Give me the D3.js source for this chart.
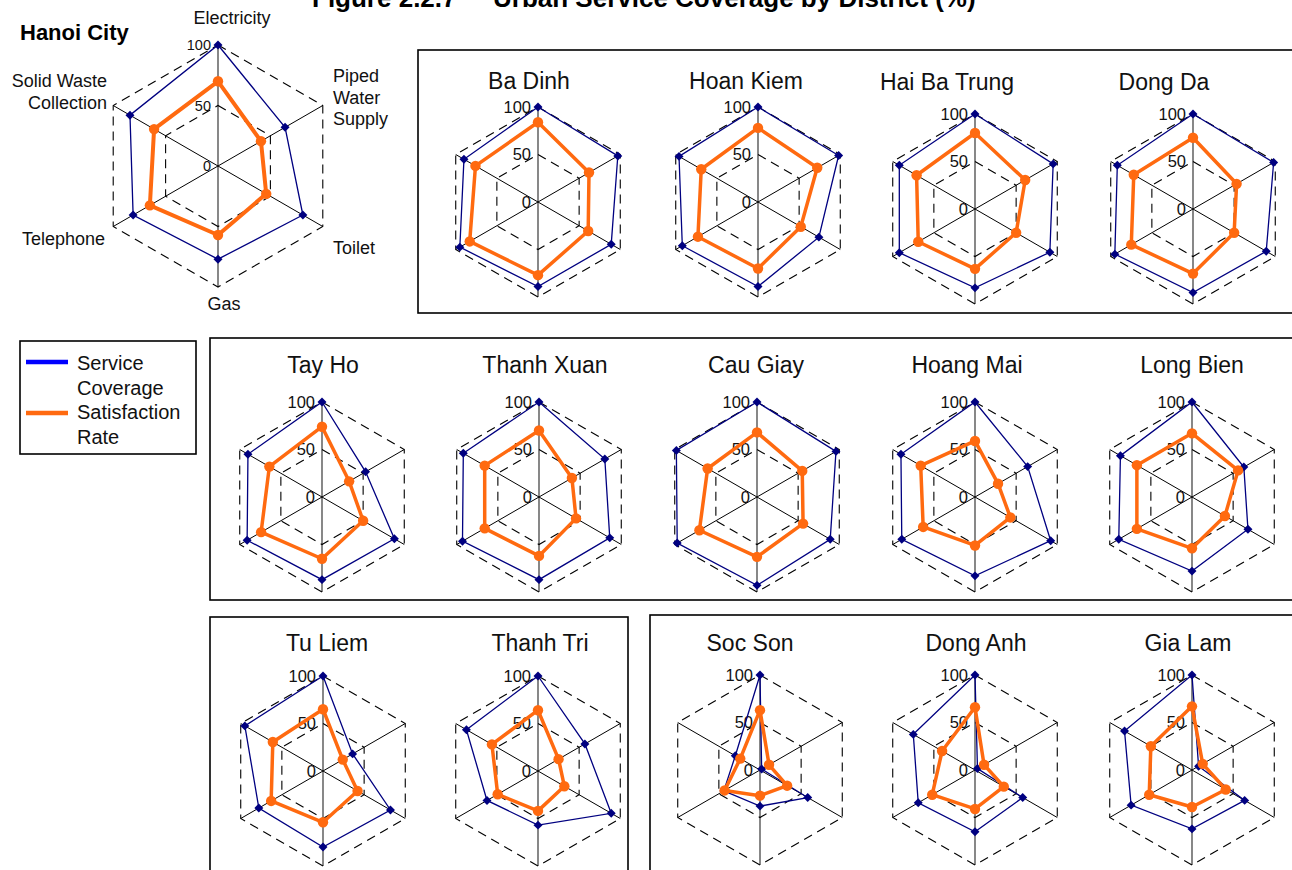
<!DOCTYPE html>
<html>
<head>
<meta charset="utf-8">
<script src="https://cdn.jsdelivr.net/npm/d3@7"></script>
<style>
body { margin: 0; background: #fff; }
svg { display: block; font-family: "Liberation Sans", Arial, Helvetica, sans-serif; }
</style>
</head>
<body>
<svg id="chart" width="1292" height="870"></svg>
<script>
// axes of every radar, clockwise from the top
var categories = ['Electricity', 'Piped Water Supply', 'Toilet', 'Gas', 'Telephone', 'Solid Waste Collection'];
var tickValues = [0, 50, 100];

// Hanoi City totals (%)
var cityCoverage = [100, 64, 81, 77, 81, 84];
var citySatisfaction = [70, 41, 46, 57, 65, 61];

var districts = ['Ba Dinh', 'Hoan Kiem', 'Hai Ba Trung', 'Dong Da',
    'Tay Ho', 'Thanh Xuan', 'Cau Giay', 'Hoang Mai', 'Long Bien',
    'Tu Liem', 'Thanh Tri', 'Soc Son', 'Dong Anh', 'Gia Lam'];

// service coverage (%) per district, same order as categories
var coverage = [
    [100, 97, 89, 89, 95, 90],
    [100, 98, 74, 89, 92, 96],
    [100, 95, 91, 83, 92, 92],
    [100, 98, 89, 88, 95, 92],
    [100, 53, 88, 87, 91, 90],
    [100, 80, 86, 87, 93, 92],
    [100, 96, 89, 93, 97, 98],
    [100, 64, 92, 83, 89, 90],
    [100, 63, 68, 78, 89, 87],
    [100, 36, 82, 80, 78, 95],
    [100, 57, 89, 57, 62, 87],
    [100, 2, 58, 38, 44, 30],
    [100, 3, 58, 65, 69, 75],
    [100, 8, 64, 62, 74, 82]
];

// satisfaction rate (%) per district
var satisfaction = [
    [84, 62, 61, 77, 83, 76],
    [78, 72, 52, 70, 73, 69],
    [80, 61, 50, 63, 69, 71],
    [75, 53, 50, 68, 75, 72],
    [74, 33, 50, 65, 74, 64],
    [70, 40, 45, 62, 66, 66],
    [68, 55, 56, 63, 70, 60],
    [59, 28, 43, 51, 63, 66],
    [67, 56, 40, 54, 67, 67],
    [65, 24, 42, 54, 63, 61],
    [64, 25, 32, 42, 49, 56],
    [63, 11, 33, 27, 43, 24],
    [66, 11, 35, 41, 52, 40],
    [67, 13, 41, 39, 52, 50]
];

// page layout (pixels): radar centres and title positions
var centers = [
    [538, 202], [758, 202], [975, 209], [1193, 209],
    [322, 497], [539, 497], [757, 497], [975, 497], [1192, 497],
    [323, 771], [538, 771], [760, 770], [975, 770], [1192, 770]
];
var titlePos = [
    [529, 89], [746, 89], [947, 90], [1164, 90],
    [323, 373], [545, 373], [756, 373], [967, 373], [1192, 373],
    [327, 651], [540, 651], [750, 651], [976, 651], [1188, 651]
];
var boxes = [
    [418, 50, 900, 263],
    [210, 338, 1110, 262],
    [210, 617, 418, 280],
    [650, 615, 700, 280]
];

var svg = d3.select('#chart');
var step = 2 * Math.PI / categories.length;

function pt(a, rr) { return [rr * Math.sin(a), -rr * Math.cos(a)]; }

function radar(g, cov, sat, R, o) {
    var r = d3.scaleLinear().domain([0, 100]).range([0, R]);
    var idx = d3.range(categories.length);

    // spokes (three lines through the centre)
    d3.range(3).forEach(function(i) {
        var p1 = pt(i * step, R), p2 = pt((i + 3) * step, R);
        g.append('line')
            .attr('x1', p1[0]).attr('y1', p1[1])
            .attr('x2', p2[0]).attr('y2', p2[1])
            .attr('stroke', i == 0 ? '#555' : '#000')
            .attr('stroke-width', i == 0 ? 1.4 : 1);
    });

    // dashed rings at 50 and 100
    tickValues.slice(1).forEach(function(t) {
        g.append('path')
            .attr('d', d3.lineRadial()
                .angle(function(d) { return d * step; })
                .radius(r(t))
                .curve(d3.curveLinearClosed)(idx))
            .attr('fill', 'none')
            .attr('stroke', '#000')
            .attr('stroke-width', 1.1)
            .attr('stroke-dasharray', '9,6');
    });

    // tick labels on the vertical axis
    g.selectAll('.tick')
        .data(tickValues)
        .enter().append('text')
        .attr('class', 'tick')
        .attr('x', -7)
        .attr('y', function(d) { return -r(d); })
        .attr('dy', '0.36em')
        .attr('text-anchor', 'end')
        .attr('font-size', o.tickSize)
        .attr('fill', '#111')
        .text(function(d) { return d; });

    var line = d3.lineRadial()
        .angle(function(d, i) { return i * step; })
        .radius(function(d) { return r(d); })
        .curve(d3.curveLinearClosed);

    // service coverage
    g.append('path')
        .attr('d', line(cov))
        .attr('fill', 'none')
        .attr('stroke', '#000080')
        .attr('stroke-width', 1.3);
    g.selectAll('.cov')
        .data(cov)
        .enter().append('path')
        .attr('class', 'cov')
        .attr('d', d3.symbol(d3.symbolSquare, 40))
        .attr('transform', function(d, i) {
            var p = pt(i * step, r(d));
            return 'translate(' + p[0] + ',' + p[1] + ') rotate(45)';
        })
        .attr('fill', '#000080');

    // satisfaction rate
    g.append('path')
        .attr('d', line(sat))
        .attr('fill', 'none')
        .attr('stroke', '#FF6A10')
        .attr('stroke-width', o.satWidth)
        .attr('stroke-linejoin', 'round');
    g.selectAll('.sat')
        .data(sat)
        .enter().append('circle')
        .attr('class', 'sat')
        .attr('cx', function(d, i) { return pt(i * step, r(d))[0]; })
        .attr('cy', function(d, i) { return pt(i * step, r(d))[1]; })
        .attr('r', 5.2)
        .attr('fill', '#FF6A10');
}

// title (top is cut off in the source)
svg.append('text').attr('x', 312).attr('y', 7)
    .attr('font-size', 26).attr('font-weight', 'bold')
    .text('Figure 2.2.7');
svg.append('text').attr('x', 493).attr('y', 7)
    .attr('font-size', 26).attr('font-weight', 'bold')
    .text('Urban Service Coverage by District (%)');

// frames around the district groups
svg.selectAll('.box')
    .data(boxes)
    .enter().append('rect')
    .attr('class', 'box')
    .attr('x', function(d) { return d[0]; })
    .attr('y', function(d) { return d[1]; })
    .attr('width', function(d) { return d[2]; })
    .attr('height', function(d) { return d[3]; })
    .attr('fill', 'none')
    .attr('stroke', '#000')
    .attr('stroke-width', 1.6);

// Hanoi City radar with axis names
svg.append('text').attr('x', 20).attr('y', 40)
    .attr('font-size', 22).attr('font-weight', 'bold')
    .text('Hanoi City');

var city = svg.append('g').attr('transform', 'translate(218,166)');
radar(city, cityCoverage, citySatisfaction, 121, {tickSize: 14.5, satWidth: 4});

var catLabels = [
    {lines: ['Electricity'], x: 14, y: -142, anchor: 'middle'},
    {lines: ['Piped', 'Water', 'Supply'], x: 115, y: -84, anchor: 'start'},
    {lines: ['Toilet'], x: 115, y: 88, anchor: 'start'},
    {lines: ['Gas'], x: 6, y: 144, anchor: 'middle'},
    {lines: ['Telephone'], x: -113, y: 79, anchor: 'end'},
    {lines: ['Solid Waste', 'Collection'], x: -111, y: -79, anchor: 'end'}
];
catLabels.forEach(function(c) {
    var t = city.append('text')
        .attr('text-anchor', c.anchor)
        .attr('font-size', 18)
        .attr('fill', '#111');
    c.lines.forEach(function(s, k) {
        t.append('tspan').attr('x', c.x).attr('y', c.y + k * 21.5).text(s);
    });
});

// district radars
districts.forEach(function(name, i) {
    svg.append('text')
        .attr('x', titlePos[i][0]).attr('y', titlePos[i][1])
        .attr('text-anchor', 'middle')
        .attr('font-size', 23)
        .attr('fill', '#111')
        .text(name);
    var g = svg.append('g')
        .attr('transform', 'translate(' + centers[i][0] + ',' + centers[i][1] + ')');
    radar(g, coverage[i], satisfaction[i], 95, {tickSize: 16.5, satWidth: 3.5});
});

// legend
var leg = svg.append('g');
leg.append('rect')
    .attr('x', 20).attr('y', 341).attr('width', 176).attr('height', 113)
    .attr('fill', '#fff').attr('stroke', '#000').attr('stroke-width', 1.6);
var legItems = [
    {color: '#0000FF', y: 362, lines: ['Service', 'Coverage']},
    {color: '#FF6A10', y: 413, lines: ['Satisfaction', 'Rate']}
];
legItems.forEach(function(d, k) {
    leg.append('line')
        .attr('x1', 26).attr('x2', 68)
        .attr('y1', d.y).attr('y2', d.y)
        .attr('stroke', d.color).attr('stroke-width', 4.5);
    d.lines.forEach(function(s, j) {
        leg.append('text')
            .attr('x', 77).attr('y', 370 + k * 49 + j * 24.5)
            .attr('font-size', 20).attr('fill', '#111')
            .text(s);
    });
});
</script>
</body>
</html>
